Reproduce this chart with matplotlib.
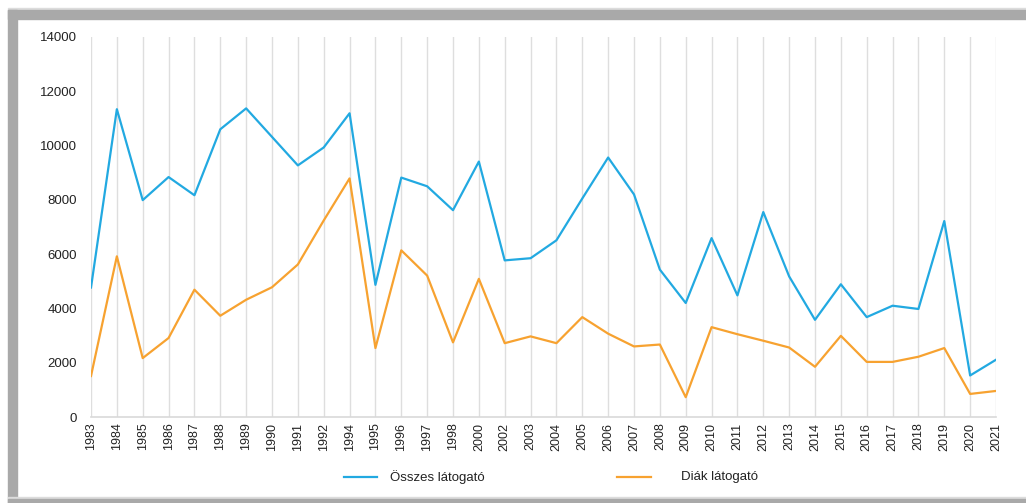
import numpy as np
import matplotlib
matplotlib.use('Agg')
import matplotlib.pyplot as plt
from matplotlib.patches import Rectangle
from matplotlib.lines import Line2D

plt.rcParams['font.family'] = ['Liberation Sans', 'DejaVu Sans']

years = ['1983','1984','1985','1986','1987','1988','1989','1990','1991','1992',
         '1994','1995','1996','1997','1998','2000','2002','2003','2004','2005',
         '2006','2007','2008','2009','2010','2011','2012','2013','2014','2015',
         '2016','2017','2018','2019','2020','2021']
osszes = [4770, 11340, 7990, 8840, 8170, 10600, 11370, 10320, 9270, 9930,
          11190, 4870, 8820, 8500, 7620, 9410, 5770, 5850, 6510, 8050,
          9560, 8200, 5430, 4200, 6590, 4480, 7550, 5180, 3580, 4890,
          3680, 4100, 3980, 7220, 1530, 2110]
diak = [1510, 5920, 2170, 2910, 4690, 3730, 4320, 4780, 5620, 7240,
        8790, 2540, 6140, 5210, 2750, 5090, 2720, 2970, 2720, 3680,
        3070, 2600, 2670, 730, 3310, 3050, 2810, 2560, 1850, 2990,
        2030, 2030, 2220, 2540, 850, 960]
labels = ['Összes látogató', 'Diák látogató']
c_blue = '#22a9e1'
c_orange = '#f7a230'

W, H = 1026, 503
fig = plt.figure(figsize=(W/100, H/100), dpi=100)

# grey frame around the chart
gray = '#a9a9a9'
def px_rect(x0, y0, x1, y1, color):
    fig.patches.append(Rectangle((x0/W, 1-y1/H), (x1-x0)/W, (y1-y0)/H,
                                 transform=fig.transFigure, color=color, zorder=0))
px_rect(8, 8, W, 10, '#dcdcdc')
px_rect(8, 10, W, 19, gray)
px_rect(8, 10, 17, H, gray)
px_rect(8, 497, W, 499, '#dcdcdc')
px_rect(8, 499, W, H, gray)

ax = fig.add_axes([91/W, 1-417/H, (996-91)/W, (417-37)/H])
x = np.arange(len(years))
ax.plot(x, osszes, color=c_blue, lw=1.6, zorder=3)
ax.plot(x, diak, color=c_orange, lw=1.6, zorder=3)

ax.set_xlim(0, len(years)-1)
ax.set_ylim(0, 14000)
ax.set_yticks(np.arange(0, 14001, 2000))
ax.set_xticks(x)
ax.set_xticklabels(years, rotation=90, fontsize=9, color='#222222')
ax.tick_params(axis='y', labelsize=9.5, colors='#222222', length=0, pad=10)
ax.tick_params(axis='x', length=0, pad=4)
ax.grid(axis='x', color='#dedede', lw=1.0)
for s in ['top', 'right', 'left']:
    ax.spines[s].set_visible(False)
ax.spines['bottom'].set_color('#d9d9d9')
ax.spines['bottom'].set_linewidth(1.2)
ax.patch.set_alpha(0)

# legend below the plot
ly = 1 - 477/H
fig.lines.append(Line2D([344/W, 377/W], [ly, ly], color=c_blue, lw=1.6, transform=fig.transFigure))
fig.text(390/W, ly, labels[0], fontsize=9.5, va='center', color='#222222')
fig.lines.append(Line2D([617/W, 651/W], [ly, ly], color=c_orange, lw=1.6, transform=fig.transFigure))
fig.text(681/W, ly, labels[1], fontsize=9.5, va='center', color='#222222')

fig.savefig('out.png', dpi=100, facecolor='white')
